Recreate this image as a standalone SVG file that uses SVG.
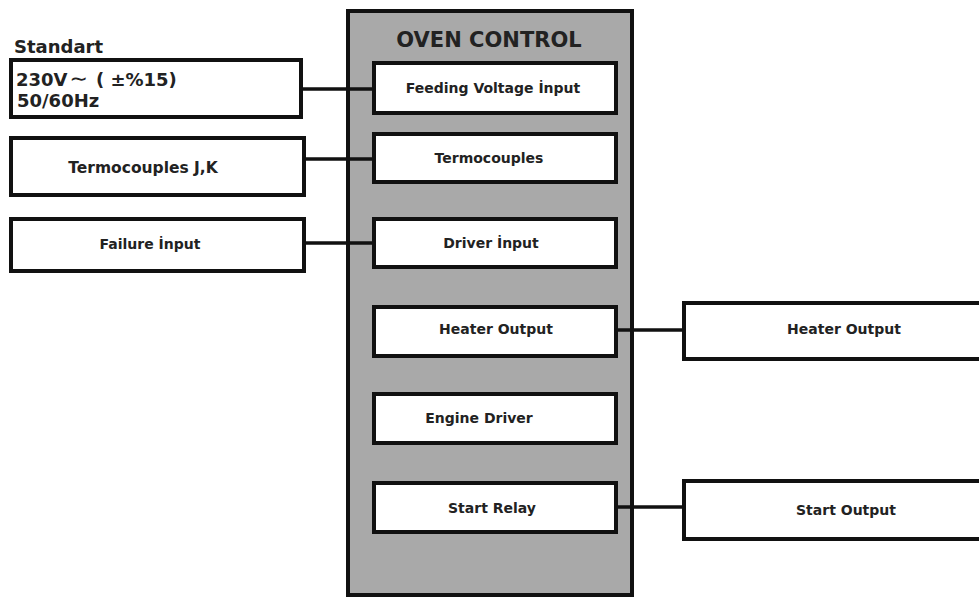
<svg xmlns="http://www.w3.org/2000/svg" width="979" height="599" viewBox="0 0 979 599">
<style>
.box{fill:#fff;stroke:#111;stroke-width:4}
.outer{fill:#a9a9a9;stroke:#111;stroke-width:4}
.t{font-family:"DejaVu Sans","Liberation Sans",sans-serif;font-weight:bold;fill:#222;font-size:14px;text-anchor:middle}
.tl{font-family:"DejaVu Sans","Liberation Sans",sans-serif;font-weight:bold;fill:#222;font-size:18px}
.conn{stroke:#111;stroke-width:3.5;fill:none}
</style>
<rect width="979" height="599" fill="#fff"/>
<g id="oven-control">
<rect class="outer" x="348" y="11" width="284" height="584"/>
<text class="t" x="489" y="47" style="font-size:21px">OVEN CONTROL</text>
</g>
<g id="connectors">
<line class="conn" x1="302" y1="89" x2="374" y2="89"/>
<line class="conn" x1="305" y1="159" x2="374" y2="159"/>
<line class="conn" x1="305" y1="243" x2="374" y2="243"/>
<line class="conn" x1="616" y1="330" x2="684" y2="330"/>
<line class="conn" x1="616" y1="507" x2="684" y2="507"/>
</g>
<g id="standart">
<text class="tl" x="14" y="53">Standart</text>
<rect class="box" x="11" y="60" width="290" height="57"/>
<text class="tl" x="16" y="86">230V<tspan style="font-weight:normal;font-size:22px" dx="2">∼</tspan><tspan dx="8">( ±%15)</tspan></text>
<text class="tl" x="17" y="107">50/60Hz</text>
</g>
<g id="termocouples-jk">
<rect class="box" x="11" y="138" width="293" height="57"/>
<text class="t" x="143" y="173" style="font-size:15.5px">Termocouples J,K</text>
</g>
<g id="failure-input">
<rect class="box" x="11" y="219" width="293" height="52"/>
<text class="t" x="150" y="249">Failure İnput</text>
</g>
<g id="feeding-voltage-input">
<rect class="box" x="374" y="63" width="242" height="50"/>
<text class="t" x="493" y="93">Feeding Voltage İnput</text>
</g>
<g id="termocouples">
<rect class="box" x="374" y="134" width="242" height="48"/>
<text class="t" x="489" y="163">Termocouples</text>
</g>
<g id="driver-input">
<rect class="box" x="374" y="219" width="242" height="48"/>
<text class="t" x="491" y="248">Driver İnput</text>
</g>
<g id="heater-output-inner">
<rect class="box" x="374" y="307" width="242" height="49"/>
<text class="t" x="496" y="334">Heater Output</text>
</g>
<g id="engine-driver">
<rect class="box" x="374" y="394" width="242" height="49"/>
<text class="t" x="479" y="423">Engine Driver</text>
</g>
<g id="start-relay">
<rect class="box" x="374" y="483" width="242" height="49"/>
<text class="t" x="492" y="513">Start Relay</text>
</g>
<g id="heater-output">
<rect class="box" x="684" y="303" width="310" height="56"/>
<text class="t" x="844" y="334">Heater Output</text>
</g>
<g id="start-output">
<rect class="box" x="684" y="481" width="310" height="58"/>
<text class="t" x="846" y="515">Start Output</text>
</g>
</svg>
